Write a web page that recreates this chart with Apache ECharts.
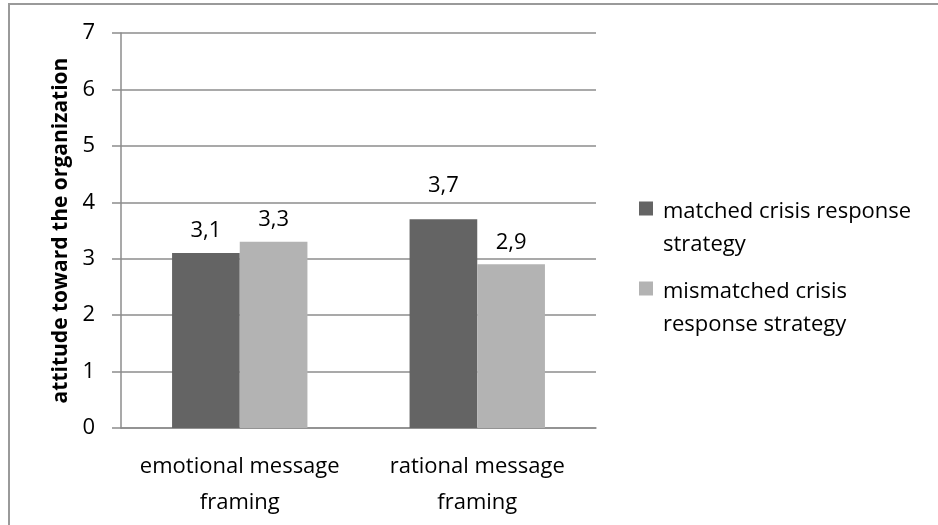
<!DOCTYPE html>
<html>
<head>
<meta charset="utf-8">
<script src="https://cdn.jsdelivr.net/npm/echarts@6/dist/echarts.min.js"></script>
<style>
  html, body { margin: 0; padding: 0; background: #fff; }
  #chart { width: 938px; height: 525px; }
</style>
</head>
<body>
<div id="chart"></div>
<script>
// Mean attitude scores by message framing and crisis response strategy
const categories = ['emotional message\nframing', 'rational message\nframing'];
const seriesNames = ['matched crisis response\nstrategy', 'mismatched crisis\nresponse strategy'];
const matched = [3.1, 3.7];
const mismatched = [3.3, 2.9];
const yTicks = [0, 1, 2, 3, 4, 5, 6, 7];

const FONT = 'Open Sans';
const FONT_SIZE = 22;
const GRID_COLOR = '#8c8c8c';
const colors = ['#646464', '#b3b3b3'];

// 14px square at the top of a tall icon box, so the marker lines up
// with the first line of a two-line legend entry
const legendIcon = 'path://M0,0H0.01V0.01H0Z M0,6.5H14V20.5H0Z M18.99,65.99H19V66H18.99Z';

const chart = echarts.init(document.getElementById('chart'), null, { renderer: 'canvas' });

function makeSeries(name, values, color, labelShift) {
  return {
    name: name,
    type: 'bar',
    data: values.map((v, i) => labelShift && labelShift[i]
      ? { value: v, label: { distance: labelShift[i] } }
      : v),
    barGap: '0%',
    barCategoryGap: '43%',
    itemStyle: { color: color },
    label: {
      show: true,
      position: 'top',
      distance: 11,
      color: '#000',
      fontFamily: FONT,
      fontSize: FONT_SIZE,
      formatter: p => String(p.value).replace('.', ',')
    },
    emphasis: { disabled: true }
  };
}

chart.setOption({
  animation: false,
  textStyle: { fontFamily: FONT },
  grid: { left: 121, right: 342, top: 33, bottom: 97, containLabel: false },
  legend: {
    left: 639,
    top: 195,
    padding: 0,
    orient: 'vertical',
    icon: legendIcon,
    itemWidth: 19,
    itemHeight: 66,
    itemGap: 14,
    selectedMode: false,
    textStyle: { fontFamily: FONT, fontSize: FONT_SIZE, color: '#000', lineHeight: 33 },
    data: seriesNames
  },
  xAxis: {
    type: 'category',
    data: categories,
    axisLine: { lineStyle: { color: GRID_COLOR, width: 1.5 } },
    axisTick: { show: false },
    axisLabel: {
      interval: 0,
      margin: 21,
      color: '#000',
      fontFamily: FONT,
      fontSize: FONT_SIZE,
      lineHeight: 36
    }
  },
  yAxis: {
    type: 'value',
    min: yTicks[0],
    max: yTicks[yTicks.length - 1],
    interval: 1,
    name: 'attitude toward the organization',
    nameLocation: 'middle',
    nameRotate: 90,
    nameGap: 44,
    nameTextStyle: { fontFamily: FONT, fontSize: 21, fontWeight: 'bold', color: '#000' },
    axisLine: { show: true, lineStyle: { color: GRID_COLOR, width: 1.5 } },
    axisTick: { show: true, inside: false, length: 9, lineStyle: { color: GRID_COLOR, width: 1.5 } },
    axisLabel: { margin: 26, color: '#000', fontFamily: FONT, fontSize: FONT_SIZE },
    splitLine: { show: true, lineStyle: { color: GRID_COLOR, width: 1.5 } }
  },
  graphic: [{
    type: 'rect',
    shape: { x: 9, y: 4, width: 1000, height: 600 },
    style: { fill: 'none', stroke: '#9a9a9a', lineWidth: 2 },
    silent: true
  }],
  series: [
    makeSeries(seriesNames[0], matched, colors[0], [0, 22]),
    makeSeries(seriesNames[1], mismatched, colors[1])
  ]
});
</script>
</body>
</html>
